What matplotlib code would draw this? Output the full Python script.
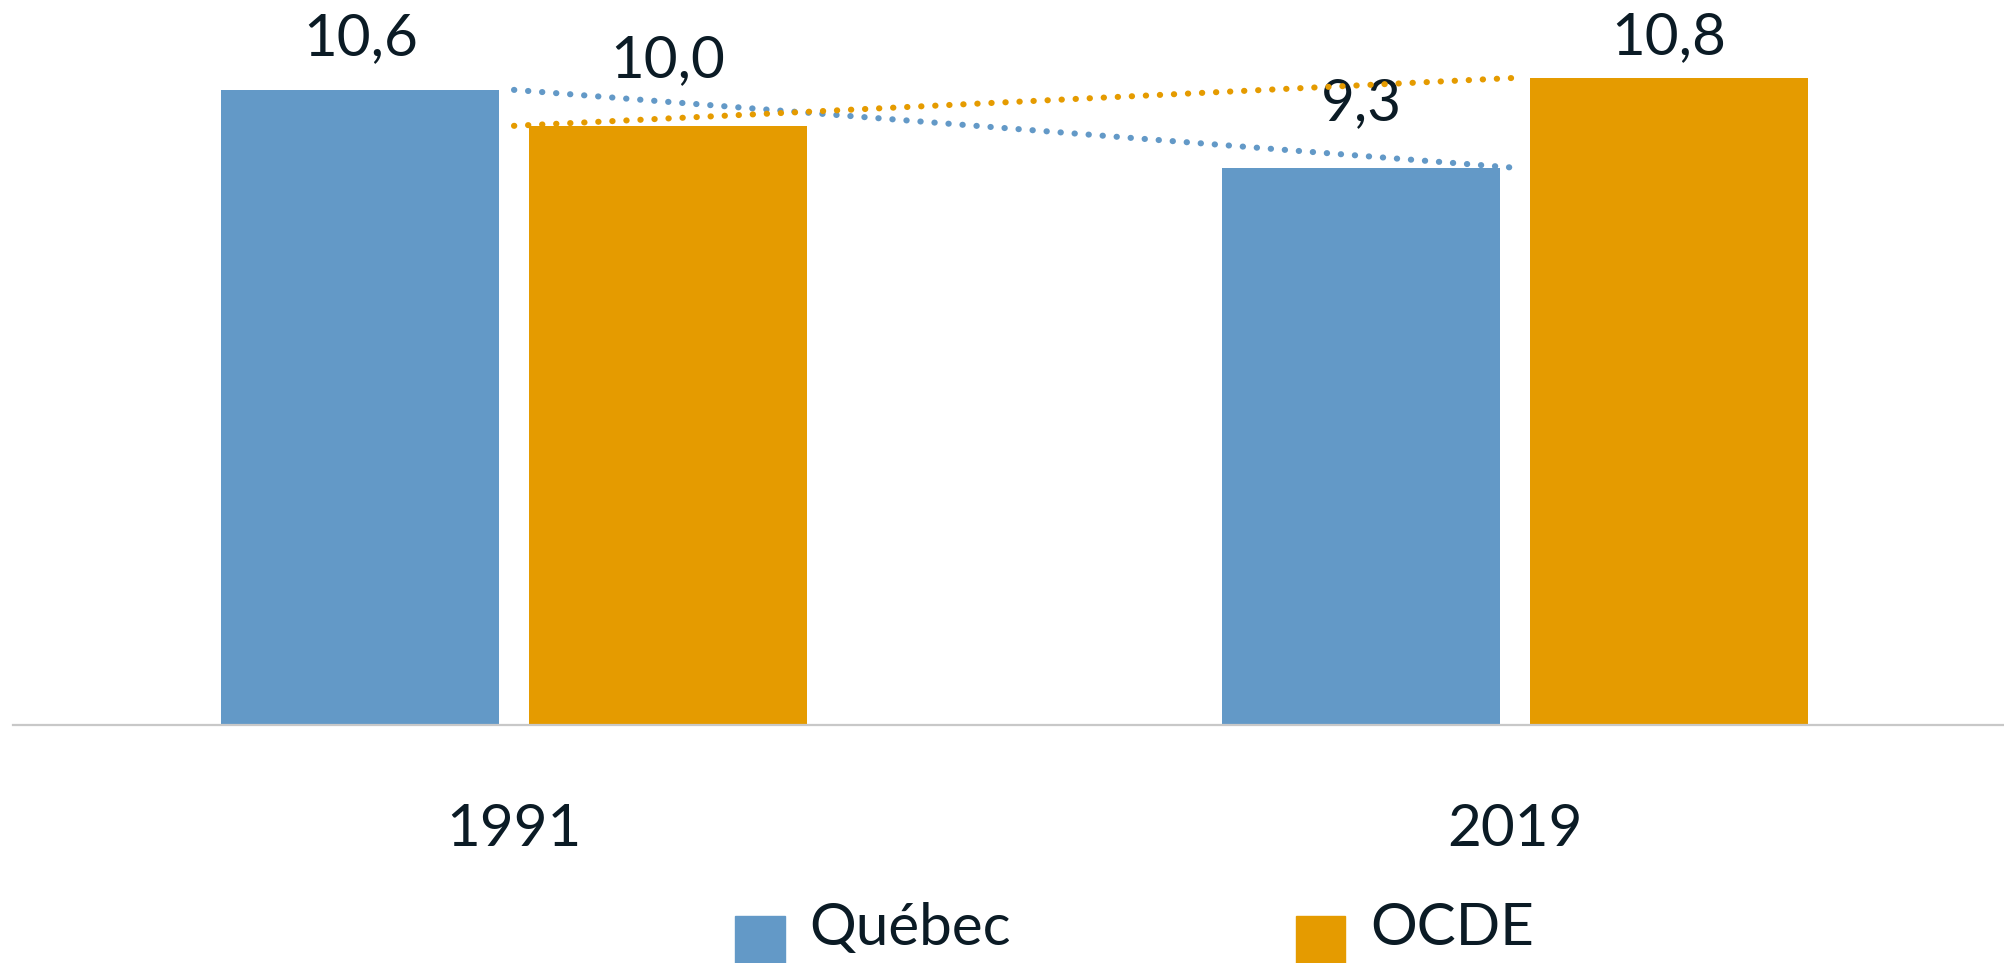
import numpy as np
import matplotlib.pyplot as plt
from matplotlib.patches import Patch, Rectangle
from matplotlib.legend_handler import HandlerPatch

# données
annees = ['1991', '2019']
quebec = [10.6, 9.3]
ocde = [10.0, 10.8]
series = ['Québec', 'OCDE']
couleurs = ['#6399C7', '#E59B00']
decalage_etiq = [[25, 34], [35, 17]]  # décalage (pt) des étiquettes au-dessus des barres

plt.rcParams['font.family'] = ['Lato', 'DejaVu Sans']
texte = '#0B1B25'

fig = plt.figure(figsize=(20.04, 9.63), dpi=100)
ax = fig.add_axes([13 / 2004, 238 / 963, 1 - 13 / 2004, 725 / 963])

x = np.arange(len(annees))
w = 0.278
off = 0.1535

for i, (vals, c) in enumerate(zip([quebec, ocde], couleurs)):
    pos = x + (-off if i == 0 else off)
    ax.bar(pos, vals, width=w, color=c, zorder=2)
    for j, (p, v) in enumerate(zip(pos, vals)):
        ax.annotate(f'{v:.1f}'.replace('.', ','), (p, v), xytext=(0, decalage_etiq[i][j]),
                    textcoords='offset points', ha='center', va='baseline',
                    fontsize=42, color=texte)
    # ligne de tendance pointillée
    ax.plot(x, vals, color=c, lw=4.4, linestyle=(0, (0.05, 2.25)),
            dash_capstyle='round', zorder=3)

ax.set_xlim(-0.5005, 1.4885)
ax.set_ylim(0, 12.1)
ax.set_xticks(x)
ax.set_xticklabels(annees, fontsize=42, color=texte)
ax.tick_params(axis='x', length=0, pad=56)
ax.set_yticks([])
for s in ['top', 'right', 'left']:
    ax.spines[s].set_visible(False)
ax.spines['bottom'].set_color('#C8C8C8')
ax.spines['bottom'].set_linewidth(1.6)


# carré de légende décalé vers le bas (coupé par le bord)
def carre(legend, orig_handle, xdescent, ydescent, width, height, fontsize):
    return Rectangle((-xdescent, -ydescent - 40), width, height + 28)


handles = [Patch(color=c) for c in couleurs]
fig.legend(handles, series, loc='upper left', bbox_to_anchor=(712 / 2004, 1 - 876 / 963),
           ncol=2, frameon=False, fontsize=42, labelcolor=texte,
           handlelength=0.85, handleheight=1.0, handletextpad=0.42, columnspacing=4.88,
           borderaxespad=0, handler_map={Patch: HandlerPatch(patch_func=carre)})

fig.savefig('out.png', dpi=100)
